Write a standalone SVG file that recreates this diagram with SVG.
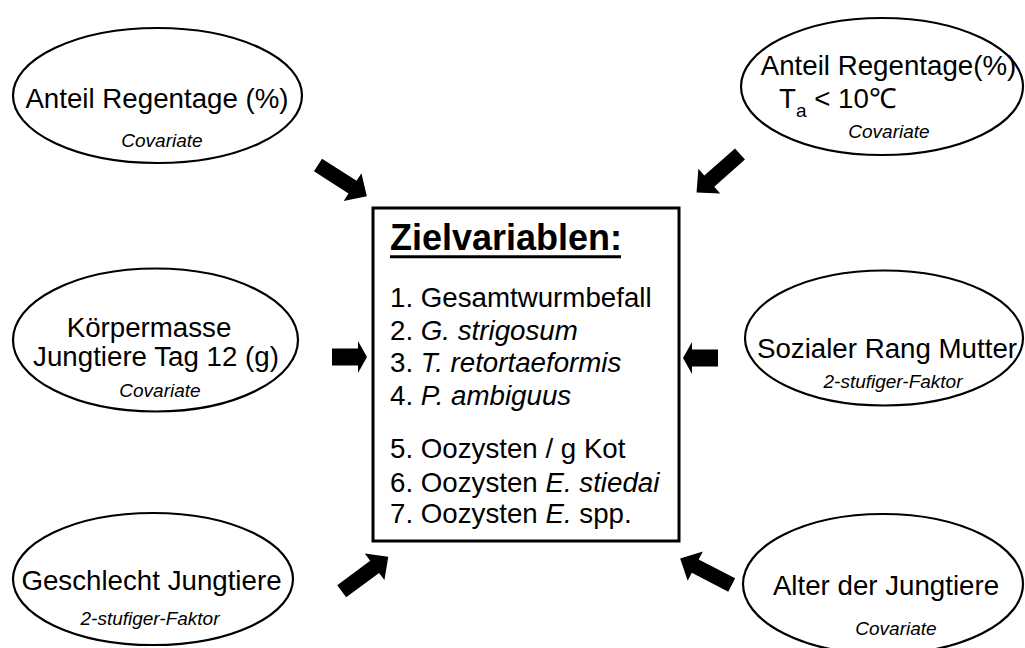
<svg xmlns="http://www.w3.org/2000/svg" xmlns:xlink="http://www.w3.org/1999/xlink" width="1025" height="648" viewBox="0 0 1025 648">
<style>
.ell{fill:#fff;stroke:#000;stroke-width:2.2}
.big{font-family:"Liberation Sans",Arial,sans-serif;font-size:27.7px;fill:#000}
.sm{font-family:"Liberation Sans",Arial,sans-serif;font-size:19px;font-style:italic;fill:#000}
.it{font-style:italic}
.arr{fill:#000}
</style>
<defs>
<path id="arrD" d="M0,-7.5 L41,-7.5 L41,-16.5 L58,0 L41,16.5 L41,7.5 L0,7.5 Z"/>
<path id="arrH" d="M0,-8.5 L26,-8.5 L26,-16 L35,0 L26,16 L26,8.5 L0,8.5 Z"/>
</defs>
<rect width="1025" height="648" fill="#fff"/>

<g id="connectors" class="arr">
<use xlink:href="#arrD" href="#arrD" transform="translate(318,165) rotate(32.6)"/>
<use xlink:href="#arrD" href="#arrD" transform="translate(740,154) rotate(138.5)"/>
<use xlink:href="#arrH" href="#arrH" transform="translate(332,357)"/>
<use xlink:href="#arrH" href="#arrH" transform="translate(718,358) rotate(180)"/>
<use xlink:href="#arrD" href="#arrD" transform="translate(341.7,591.3) rotate(-36.6)"/>
<use xlink:href="#arrD" href="#arrD" transform="translate(731.7,585) rotate(207.3)"/>
</g>

<g id="center">
<rect x="373" y="208" width="306" height="333" fill="#fff" stroke="#000" stroke-width="3"/>
<text x="390" y="250" font-family="'Liberation Sans',Arial,sans-serif" font-size="36" font-weight="bold">Zielvariablen:</text>
<line x1="390" y1="256.7" x2="621" y2="256.7" stroke="#000" stroke-width="3"/>
<text class="big" x="390" y="306.7">1. Gesamtwurmbefall</text>
<text class="big" x="390" y="340">2. <tspan class="it">G. strigosum</tspan></text>
<text class="big" x="390" y="372">3. <tspan class="it">T. retortaeformis</tspan></text>
<text class="big" x="390" y="405">4. <tspan class="it">P. ambiguus</tspan></text>
<text class="big" x="390" y="458">5. Oozysten / g Kot</text>
<text class="big" x="390" y="491.5">6. Oozysten <tspan class="it">E. stiedai</tspan></text>
<text class="big" x="390" y="523">7. Oozysten <tspan class="it">E.</tspan> spp.</text>
</g>

<g id="n_regentage">
<ellipse class="ell" cx="157.5" cy="95.5" rx="144.5" ry="67.5"/>
<text class="big" x="157" y="108" text-anchor="middle">Anteil Regentage (%)</text>
<text class="sm" x="162" y="146.5" text-anchor="middle">Covariate</text>
</g>

<g id="n_regentage_ta">
<ellipse class="ell" cx="882" cy="86.5" rx="141" ry="68.5"/>
<text class="big" x="888.5" y="75" text-anchor="middle">Anteil Regentage(%)</text>
<text class="big" x="779" y="108">T<tspan font-size="19" dy="8.5">a</tspan><tspan dy="-8.5"> &lt; 10℃</tspan></text>
<text class="sm" x="889" y="138" text-anchor="middle">Covariate</text>
</g>

<g id="n_koerpermasse">
<ellipse class="ell" cx="155.5" cy="340" rx="142.5" ry="71.5"/>
<text class="big" x="149" y="336.5" text-anchor="middle">Körpermasse</text>
<text class="big" x="156" y="366" text-anchor="middle">Jungtiere Tag 12 (g)</text>
<text class="sm" x="160" y="396.5" text-anchor="middle">Covariate</text>
</g>

<g id="n_rang">
<ellipse class="ell" cx="884" cy="338" rx="139" ry="67.5"/>
<text class="big" x="887" y="358" text-anchor="middle">Sozialer Rang Mutter</text>
<text class="sm" x="893" y="388" text-anchor="middle">2-stufiger-Faktor</text>
</g>

<g id="n_geschlecht">
<ellipse class="ell" cx="153" cy="579" rx="140" ry="66"/>
<text class="big" x="151.5" y="590" text-anchor="middle">Geschlecht Jungtiere</text>
<text class="sm" x="150" y="625" text-anchor="middle">2-stufiger-Faktor</text>
</g>

<g id="n_alter">
<ellipse class="ell" cx="883" cy="584" rx="140" ry="70"/>
<text class="big" x="886" y="595" text-anchor="middle">Alter der Jungtiere</text>
<text class="sm" x="896" y="635" text-anchor="middle">Covariate</text>
</g>
</svg>
